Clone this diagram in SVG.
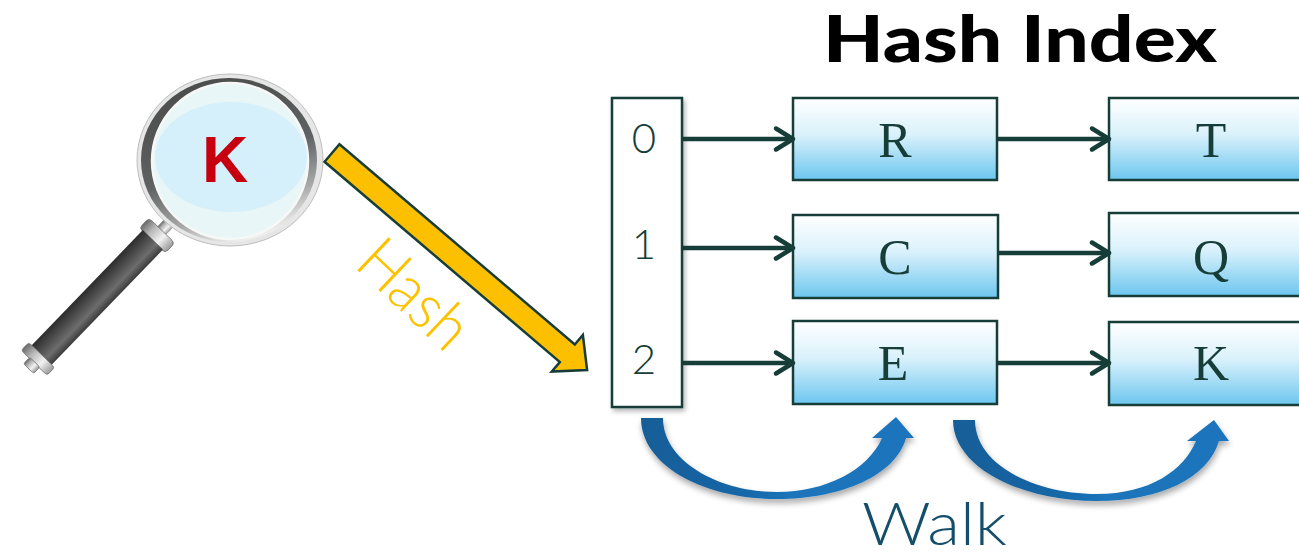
<svg xmlns="http://www.w3.org/2000/svg" width="1299" height="552" viewBox="0 0 1299 552">
  <defs>
    <style>
      .box { stroke: #163d38; stroke-width: 2.5; fill: url(#boxFill); }
      .lbl { font-family: "Liberation Serif", "Times New Roman", serif; font-size: 50px; fill: #163d38; text-anchor: middle; }
      .digit { font-family: Lato, "Open Sans", sans-serif; font-weight: 300; font-size: 42px; fill: #163d38; text-anchor: middle; }
      .link { stroke: #163d38; stroke-width: 4.5; fill: none; marker-end: url(#chev); }
      .walk { fill: url(#walkFill); filter: url(#softShadow); }
    </style>
    <linearGradient id="boxFill" x1="0" y1="0" x2="0" y2="1">
      <stop offset="0" stop-color="#ffffff"/>
      <stop offset="0.45" stop-color="#d9f1fb"/>
      <stop offset="1" stop-color="#6cc6ef"/>
    </linearGradient>
    <linearGradient id="walkFill" x1="0" y1="0" x2="1" y2="0">
      <stop offset="0" stop-color="#145d97"/>
      <stop offset="0.35" stop-color="#1766a6"/>
      <stop offset="0.55" stop-color="#1a74ba"/>
      <stop offset="1" stop-color="#1a75bc"/>
    </linearGradient>
    <linearGradient id="ringFill" x1="0.2" y1="0" x2="0.55" y2="1">
      <stop offset="0" stop-color="#4a4a4a"/>
      <stop offset="0.55" stop-color="#5e6262"/>
      <stop offset="0.82" stop-color="#a9a9a9"/>
      <stop offset="1" stop-color="#eeeeee"/>
    </linearGradient>
    <linearGradient id="handleFill" x1="0" y1="0" x2="0" y2="1">
      <stop offset="0" stop-color="#3a3a3a"/>
      <stop offset="0.3" stop-color="#6d6d6d"/>
      <stop offset="0.55" stop-color="#555555"/>
      <stop offset="1" stop-color="#2c2c2c"/>
    </linearGradient>
    <linearGradient id="chromeFill" x1="0" y1="0" x2="0" y2="1">
      <stop offset="0" stop-color="#9a9a9a"/>
      <stop offset="0.35" stop-color="#f2f2f2"/>
      <stop offset="0.7" stop-color="#b8b8b8"/>
      <stop offset="1" stop-color="#6a6a6a"/>
    </linearGradient>
    <filter id="softShadow" x="-20%" y="-20%" width="140%" height="150%">
      <feGaussianBlur in="SourceAlpha" stdDeviation="3"/>
      <feOffset dx="1" dy="4" result="blur"/>
      <feComponentTransfer><feFuncA type="linear" slope="0.35"/></feComponentTransfer>
      <feMerge><feMergeNode/><feMergeNode in="SourceGraphic"/></feMerge>
    </filter>
    <filter id="boxShadow" x="-20%" y="-10%" width="150%" height="120%">
      <feGaussianBlur in="SourceAlpha" stdDeviation="2.5"/>
      <feOffset dx="2" dy="3"/>
      <feComponentTransfer><feFuncA type="linear" slope="0.3"/></feComponentTransfer>
      <feMerge><feMergeNode/><feMergeNode in="SourceGraphic"/></feMerge>
    </filter>
    <marker id="chev" markerUnits="userSpaceOnUse" markerWidth="30" markerHeight="30" refX="21" refY="14" orient="auto">
      <path d="M4,3.5 L21,14 L4,24.5" fill="none" stroke="#163d38" stroke-width="4.5" stroke-linecap="round" stroke-linejoin="round"/>
    </marker>
  </defs>

  <rect width="1299" height="552" fill="#ffffff"/>

  <!-- title -->
  <text id="title" x="823" y="62" font-family="Lato, 'Liberation Sans', Arial, sans-serif" font-weight="900" font-size="64" textLength="394" lengthAdjust="spacingAndGlyphs" fill="#000000">Hash Index</text>

  <!-- magnifying glass with the search key -->
  <g id="magnifier">
    <g transform="translate(230,160) rotate(134)">
      <rect x="82" y="-6" width="18" height="12" fill="url(#chromeFill)"/>
      <rect x="98" y="-18" width="14" height="36" rx="4" fill="url(#chromeFill)" stroke="#777" stroke-width="0.8"/>
      <rect x="111" y="-14" width="162" height="28" fill="url(#handleFill)"/>
      <rect x="271" y="-18" width="11" height="36" rx="3" fill="url(#chromeFill)" stroke="#777" stroke-width="0.8"/>
      <rect x="281" y="-7" width="9" height="14" rx="2" fill="url(#chromeFill)" stroke="#777" stroke-width="0.8"/>
    </g>
    <ellipse cx="230" cy="160" rx="93" ry="86" fill="#e6e6e6" stroke="#bdbdbd" stroke-width="1"/>
    <ellipse cx="229" cy="160" rx="88" ry="82" fill="url(#ringFill)"/>
    <circle cx="230" cy="161" r="78" fill="#e8f6f7" stroke="#f7f7f7" stroke-width="2.5"/>
    <ellipse cx="231" cy="157" rx="76" ry="55" fill="#d5f0fa"/>
    <text x="225" y="182" font-family="'Liberation Sans', Arial, sans-serif" font-weight="bold" font-size="64" fill="#c6000f" text-anchor="middle">K</text>
  </g>

  <!-- hash arrow into the bucket array -->
  <g id="hash-arrow">
    <polygon transform="translate(332,153) rotate(40.4)" points="0,-11.5 309,-11.5 309,-24 335,0 309,24 309,11.5 0,11.5" fill="#fdc000" stroke="#163d38" stroke-width="2.5"/>
    <text transform="translate(353,266) rotate(43.5)" font-family="Lato, 'Open Sans', sans-serif" font-weight="300" font-size="64" textLength="128" lengthAdjust="spacingAndGlyphs" fill="#fcc200">Hash</text>
  </g>

  <!-- bucket array -->
  <g id="buckets">
    <rect x="612" y="98" width="70" height="309" fill="#ffffff" stroke="#163d38" stroke-width="2.5" filter="url(#boxShadow)"/>
    <text class="digit" x="644" y="153">0</text>
    <text class="digit" x="644" y="259">1</text>
    <text class="digit" x="644" y="374">2</text>
  </g>

  <!-- chain entries -->
  <g id="node-R"><rect class="box" x="793" y="98" width="204" height="82"/><text class="lbl" x="895" y="157">R</text></g>
  <g id="node-T"><rect class="box" x="1109" y="98" width="204" height="82"/><text class="lbl" x="1211" y="157">T</text></g>
  <g id="node-C"><rect class="box" x="793" y="215" width="205" height="83"/><text class="lbl" x="895" y="274">C</text></g>
  <g id="node-Q"><rect class="box" x="1109" y="213" width="204" height="83"/><text class="lbl" x="1211" y="274">Q</text></g>
  <g id="node-E"><rect class="box" x="793" y="321" width="204" height="83"/><text class="lbl" x="893" y="380">E</text></g>
  <g id="node-K"><rect class="box" x="1109" y="322" width="204" height="83"/><text class="lbl" x="1211" y="380">K</text></g>

  <!-- chain pointers -->
  <g id="connectors">
    <line class="link" x1="682" y1="139" x2="793" y2="139"/>
    <line class="link" x1="682" y1="248" x2="793" y2="248"/>
    <line class="link" x1="682" y1="363" x2="793" y2="363"/>
    <line class="link" x1="997" y1="139" x2="1109" y2="139"/>
    <line class="link" x1="998" y1="253" x2="1109" y2="253"/>
    <line class="link" x1="997" y1="363" x2="1109" y2="363"/>
  </g>

  <!-- walk along the chain -->
  <g id="walk">
    <path class="walk" d="M641,418 L663,418 C663,462 720,492 777,492 C826,492 868,470 882,438 L872,438 L896,417 L914,438 L906,438 C896,475 842,499 777,499 C703,499 641,465 641,418 Z"/>
    <path class="walk" d="M953,420 L975,420 C975,465 1035,494 1097,494 C1150,494 1184,470 1196,441 L1187,441 L1214,420 L1229,441 L1219,441 C1208,478 1160,501 1097,501 C1020,501 953,467 953,420 Z"/>
    <text x="862" y="545" font-family="Lato, 'Open Sans', sans-serif" font-weight="300" font-size="59" textLength="145" lengthAdjust="spacingAndGlyphs" fill="#134f6a">Walk</text>
  </g>
</svg>
